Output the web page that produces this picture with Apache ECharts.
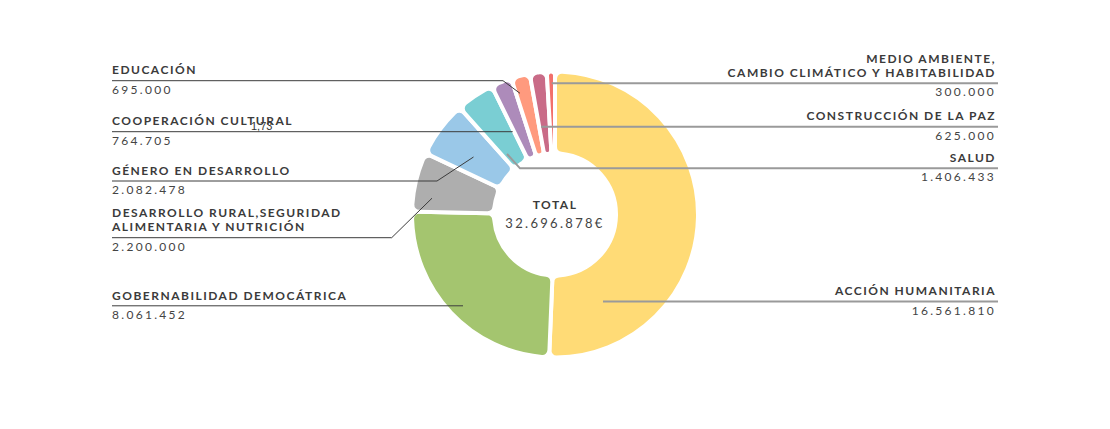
<!DOCTYPE html>
<html>
<head>
<meta charset="utf-8">
<script src="https://cdn.jsdelivr.net/npm/echarts@6/dist/echarts.min.js"></script>
<style>
html,body{margin:0;padding:0;background:#fff}
#main{width:1110px;height:429px}
#main text{letter-spacing:2.3px}
#main text[text-anchor="middle"]{letter-spacing:2.3px}
#main text[style*="bold"]{letter-spacing:1.5px}
#main text[style*="Liberation"]{letter-spacing:0}
</style>
</head>
<body>
<div id="main"></div>
<script>
// ---- data ----
const categories = [
  'ACCIÓN HUMANITARIA',
  'GOBERNABILIDAD DEMOCÁTRICA',
  'DESARROLLO RURAL,SEGURIDAD\nALIMENTARIA Y NUTRICIÓN',
  'GÉNERO EN DESARROLLO',
  'SALUD',
  'COOPERACIÓN CULTURAL',
  'EDUCACIÓN',
  'CONSTRUCCIÓN DE LA PAZ',
  'MEDIO AMBIENTE,\nCAMBIO CLIMÁTICO Y HABITABILIDAD'
];
const values = [16561810, 8061452, 2200000, 2082478, 1406433, 764705, 695000, 625000, 300000];
const colors = ['#FFDB76', '#A4C56F', '#AEAEAE', '#9AC8E8', '#7ACED3', '#AD8BBA', '#FF9A7E', '#C96B87', '#F2706B'];
const totalLabel = 'TOTAL';
const strayNote = '1,73';

// ---- label / leader-line layout (annotation placement only) ----
const leaderSides = ['right', 'left', 'left', 'left', 'right', 'left', 'left', 'right', 'right'];
const leaderLineY = [301.5, 305.8, 237.7, 181, 168.3, 131.7, 80.7, 126.7, 83.3];
const leaderAnchor = [[48, 87], [-92, 91.3], [-123, -16.3], [-81.5, -57.5], [-48, -60.5], [-42.3, -82.8], [-35, -121.2], [-14, -87.8], [-3.3, -131.2]];
const leaderElbowX = [null, null, -163.3, -118, -35, null, -52, null, null];

function fmt(v) { return String(v).replace(/\B(?=(\d{3})+(?!\d))/g, '.'); }

const chart = echarts.init(document.getElementById('main'), null, { renderer: 'svg' });
const total = values.reduce((a, b) => a + b, 0);

const sliceData = values.map((v, i) => ({ name: categories[i], value: v, itemStyle: { color: colors[i] } }));
const labelData = values.map((v, i) => {
  const left = leaderSides[i] === 'left';
  return {
    name: categories[i],
    value: v,
    labelLine: { lineStyle: { color: left ? '#3c3c3c' : '#9a9a9a', width: left ? 1 : 2 } }
  };
});

const pieGeom = { center: ['50%', '50%'], radius: [61, 143], startAngle: 90, clockwise: true };

chart.setOption({
  animation: false,
  backgroundColor: '#ffffff',
  title: {
    text: totalLabel,
    subtext: fmt(total) + '€',
    left: 'center',
    top: 196.5,
    padding: 0,
    itemGap: 2.5,
    textStyle: { fontFamily: 'Lato', fontWeight: 'bold', fontSize: 12, lineHeight: 16, color: '#3b3b3b' },
    subtextStyle: { fontFamily: 'Lato', fontWeight: 'normal', fontSize: 13, lineHeight: 16, color: '#444' }
  },
  graphic: [{
    type: 'text', left: 251, top: 120,
    style: { text: strayNote, fontFamily: 'Liberation Sans', fontSize: 11, fill: '#333' }
  }],
  series: [{
    type: 'pie',
    ...pieGeom,
    z: 2,
    silent: true,
    emphasis: { disabled: true },
    itemStyle: { borderColor: '#ffffff', borderWidth: 4, borderRadius: 7 },
    label: { show: false },
    labelLine: { show: false },
    data: sliceData
  }, {
    type: 'pie',
    ...pieGeom,
    z: 5,
    silent: true,
    avoidLabelOverlap: false,
    emphasis: { disabled: true },
    itemStyle: { color: 'rgba(0,0,0,0)', borderWidth: 0 },
    label: {
      show: true,
      position: 'outside',
      formatter: p => p.name.split('\n').map(s => '{n|' + s + '}').join('\n') + '\n{v|' + fmt(p.value) + '}',
      rich: {
        n: { fontFamily: 'Lato', fontWeight: 'bold', fontSize: 12, lineHeight: 14.5, color: '#3b3b3b' },
        v: { fontFamily: 'Lato', fontWeight: 'normal', fontSize: 12, lineHeight: 24, color: '#444' }
      }
    },
    labelLine: { show: true, smooth: false },
    labelLayout: function (params) {
      const i = params.dataIndex;
      const cx = chart.getWidth() / 2, cy = chart.getHeight() / 2;
      const n = categories[i].split('\n').length;
      const ly = leaderLineY[i];
      const left = leaderSides[i] === 'left';
      const ax = cx + leaderAnchor[i][0], ay = cy + leaderAnchor[i][1];
      const ex = leaderElbowX[i] == null ? ax : cx + leaderElbowX[i];
      const endX = left ? 112 : 998;
      return {
        x: left ? 112 : 996,
        y: ly - 14.5 * n - 3.5,
        align: left ? 'left' : 'right',
        verticalAlign: 'top',
        labelLinePoints: [[ax, ay], [ex, ly], [endX, ly]]
      };
    },
    data: labelData
  }]
});
</script>
</body>
</html>
